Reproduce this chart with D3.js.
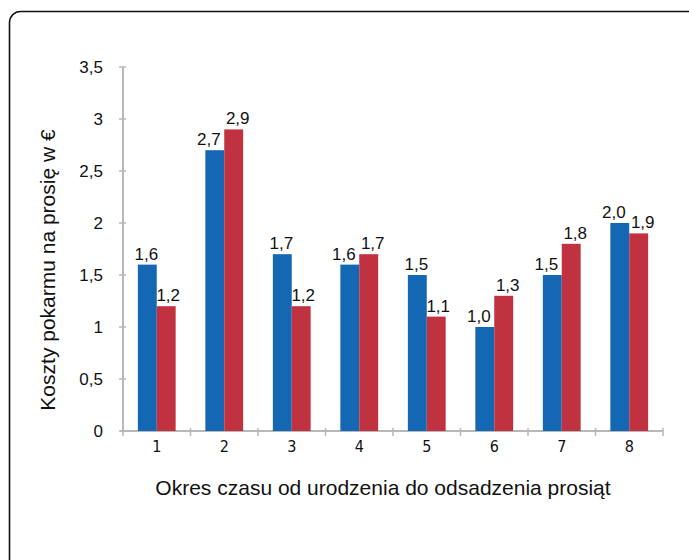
<!DOCTYPE html>
<html>
<head>
<meta charset="utf-8">
<script src="https://cdn.jsdelivr.net/npm/d3@7"></script>
<style>
body{margin:0;background:#fff;}
svg{display:block;}
</style>
</head>
<body>
<svg></svg>
<script>
var screen = {width:689,height:560}
var margins = {top:67,right:26,bottom:129,left:123}

// data
var periods = ["1","2","3","4","5","6","7","8"]
var blueValues = [1.6,2.7,1.7,1.6,1.5,1.0,1.5,2.0]
var redValues = [1.2,2.9,1.2,1.7,1.1,1.3,1.8,1.9]
var yTicks = [0,0.5,1,1.5,2,2.5,3,3.5]
var yTitle = "Koszty pokarmu na prosię w €"
var xTitle = "Okres czasu od urodzenia do odsadzenia prosiąt"

var fmt = function(v){return v.toFixed(1).replace(".",",")}
var tickFmt = function(v){return String(v).replace(".",",")}

var svg = d3.select("svg")
    .attr("width",screen.width)
    .attr("height",screen.height)

// card border
svg.append("rect")
    .attr("x",9.5).attr("y",11.5)
    .attr("width",720).attr("height",600)
    .attr("rx",11).attr("ry",11)
    .attr("fill","none")
    .attr("stroke","#111")
    .attr("stroke-width",1.6)

var width = screen.width - margins.left - margins.right
var height = screen.height - margins.top - margins.bottom

var xScale = d3.scaleBand()
    .domain(periods)
    .range([0,width])
    .paddingInner(0.44)
    .paddingOuter(0.22)

var xInner = d3.scaleBand()
    .domain(["a","b"])
    .range([0,xScale.bandwidth()])

var yScale = d3.scaleLinear()
    .domain([0,3.5])
    .range([height,0])

var graph = svg.append("g")
    .attr("id","graph")
    .attr("transform","translate("+margins.left+","+margins.top+")")

// y axis
var yAxis = graph.append("g").attr("class","axis")
yAxis.append("line")
    .attr("x1",0).attr("x2",0)
    .attr("y1",yScale(3.5)).attr("y2",yScale(0))
    .attr("stroke","#b8b8b8").attr("stroke-width",2)
yAxis.selectAll(".ytick")
    .data(yTicks)
    .enter()
    .append("line")
    .attr("x1",-4).attr("x2",3)
    .attr("y1",function(d){return yScale(d)})
    .attr("y2",function(d){return yScale(d)})
    .attr("stroke","#b8b8b8").attr("stroke-width",1.5)
yAxis.selectAll(".ylabel")
    .data(yTicks)
    .enter()
    .append("text")
    .attr("x",-20)
    .attr("y",function(d){return yScale(d)})
    .attr("dy","0.35em")
    .attr("text-anchor","end")
    .attr("font-family","Liberation Sans, Arial, sans-serif")
    .attr("font-size",17)
    .attr("fill","#111")
    .text(tickFmt)

// x axis
var xAxis = graph.append("g").attr("class","axis")
    .attr("transform","translate(0,"+height+")")
xAxis.append("line")
    .attr("x1",-3).attr("x2",width)
    .attr("stroke","#b8b8b8").attr("stroke-width",2)
var bounds = periods.map(function(p){return xScale(p) - xScale.step()*xScale.paddingInner()/2})
bounds.push(width)
xAxis.selectAll(".xtick")
    .data(bounds)
    .enter()
    .append("line")
    .attr("x1",function(d){return d}).attr("x2",function(d){return d})
    .attr("y1",-3).attr("y2",5)
    .attr("stroke","#b8b8b8").attr("stroke-width",1.5)
xAxis.selectAll(".xlabel")
    .data(periods)
    .enter()
    .append("text")
    .attr("x",function(d){return xScale(d)+xScale.bandwidth()/2})
    .attr("y",21)
    .attr("text-anchor","middle")
    .attr("font-family","DejaVu Sans Condensed, DejaVu Sans, sans-serif")
    .attr("font-stretch","condensed")
    .attr("font-size",16)
    .attr("fill","#111")
    .text(function(d){return d})

// bars
var series = [
    {key:"a",values:blueValues,color:"#1467b3"},
    {key:"b",values:redValues,color:"#c0323f"}
]
series.forEach(function(s,si)
{
    graph.selectAll(".bar"+s.key)
        .data(s.values)
        .enter()
        .append("rect")
        .attr("x",function(v,i){return xScale(periods[i])+xInner(s.key)})
        .attr("y",function(v){return yScale(v)})
        .attr("width",xInner.bandwidth())
        .attr("height",function(v){return height-yScale(v)})
        .attr("fill",s.color)

    graph.selectAll(".val"+s.key)
        .data(s.values)
        .enter()
        .append("text")
        .attr("x",function(v,i)
        {
            // push labels apart when the two bars are close in height
            var close = Math.abs(blueValues[i]-redValues[i]) < 0.35
            var shift = si==0 ? (close ? -6 : -1) : (close ? 4 : 2)
            return xScale(periods[i])+xInner(s.key)+xInner.bandwidth()/2+shift
        })
        .attr("y",function(v){return yScale(v)-5})
        .attr("text-anchor","middle")
        .attr("font-family","Liberation Sans, Arial, sans-serif")
        .attr("font-size",17)
        .attr("fill","#111")
        .text(fmt)
})

// titles
svg.append("text")
    .attr("transform","translate(55,"+270+") rotate(-90)")
    .attr("text-anchor","middle")
    .attr("font-family","Liberation Sans, Arial, sans-serif")
    .attr("font-size",21)
    .attr("fill","#111")
    .text(yTitle)

svg.append("text")
    .attr("x",383)
    .attr("y",495)
    .attr("text-anchor","middle")
    .attr("font-family","Liberation Sans, Arial, sans-serif")
    .attr("font-size",21)
    .attr("fill","#111")
    .text(xTitle)
</script>
</body>
</html>
